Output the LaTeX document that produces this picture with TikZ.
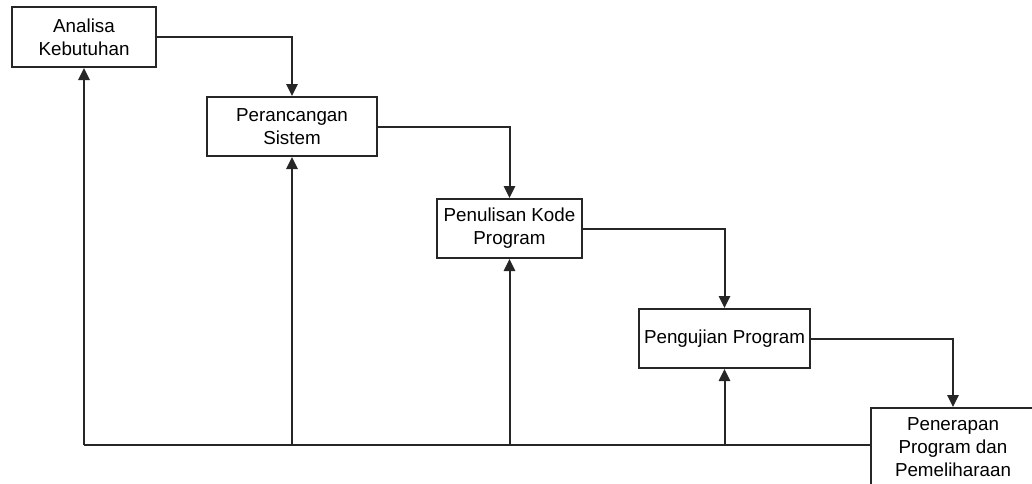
\documentclass[tikz,border=0pt]{standalone}
\usepackage{fontspec}
\setmainfont{Liberation Sans}
\usetikzlibrary{arrows.meta}
\begin{document}
\begin{tikzpicture}[x=0.75pt,y=-0.75pt,
  stage/.style={draw=black!85,line width=1.5pt,fill=white,align=center,inner sep=0pt,
    font=\fontsize{14.1}{17.4}\selectfont},
  flow/.style={draw=black!85,line width=1.5pt,-{Triangle[width=8.5pt,length=9pt]}},
  back/.style={draw=black!85,line width=1.5pt}]
\useasboundingbox (0,0) rectangle (1032,483);
\node[stage,minimum width=144*0.75pt,minimum height=60*0.75pt] (a) at (84,37) {Analisa\\Kebutuhan};
\node[stage,minimum width=170*0.75pt,minimum height=59*0.75pt] (b) at (292,126.5) {Perancangan\\Sistem};
\node[stage,minimum width=145*0.75pt,minimum height=59*0.75pt] (c) at (509.5,228.5) {Penulisan Kode\\Program};
\node[stage,minimum width=171*0.75pt,minimum height=59*0.75pt] (d) at (724.5,338.5) {Pengujian Program};
\node[stage,minimum width=164*0.75pt,minimum height=78*0.75pt] (e) at (953,447) {Penerapan\\Program dan\\Pemeliharaan};
% forward flow
\draw[flow] (a.east) -| (b.north);
\draw[flow] (b.east) -| (c.north);
\draw[flow] (c.east) -| (d.north);
\draw[flow] (d.east) -| (e.north);
% feedback
\coordinate (f1) at (84,445);
\draw[back] (e.west |- f1) -- (f1);
\draw[flow] (f1) -- (a.south);
\draw[flow] (b.south |- f1) -- (b.south);
\draw[flow] (c.south |- f1) -- (c.south);
\draw[flow] (d.south |- f1) -- (d.south);
\end{tikzpicture}
\end{document}
